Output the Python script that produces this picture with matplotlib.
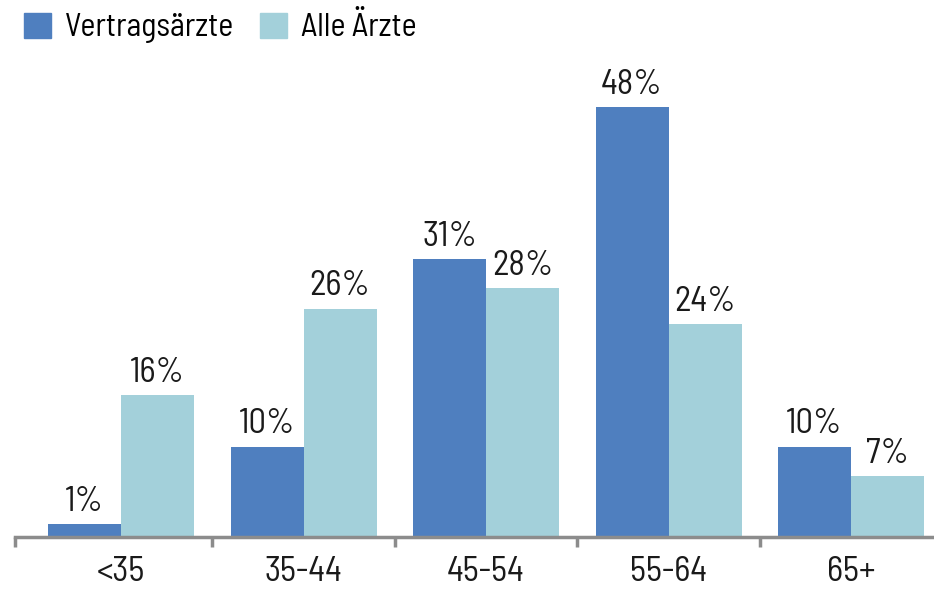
import matplotlib
matplotlib.use("Agg")
import matplotlib.pyplot as plt
import matplotlib.patches as mpatches
from matplotlib import font_manager as fm
import numpy as np

categories = ["<35", "35-44", "45-54", "55-64", "65+"]
series_names = ["Vertragsärzte", "Alle Ärzte"]
vertragsaerzte = [1.4, 10.1, 31.0, 48.0, 10.1]
alle_aerzte = [15.8, 25.5, 27.8, 23.8, 6.8]

c_dark = "#4f7fbf"
c_light = "#a3d0da"
axis_col = "#8c8c8c"
txt_col = "#1a1a1a"

fam = ["Barlow Semi Condensed", "DejaVu Sans"]
fp = fm.FontProperties(family=fam, weight=400, size=25)
fp_leg = fm.FontProperties(family=fam, weight=400, size=23)

W, H = 934, 589
fig = plt.figure(figsize=(W / 100, H / 100), dpi=100)

base_y = 537
px_per_pct = 8.96
x0 = 121.0
step = 182.5

ax = fig.add_axes([0, (H - base_y) / H, 1, base_y / H])
ax.set_ylim(0, base_y / px_per_pct)
ax.set_xlim(-x0 / step, (W - x0) / step)

x = np.arange(len(categories))
bw = 0.4
b1 = ax.bar(x - bw / 2, vertragsaerzte, bw, color=c_dark, label=series_names[0], zorder=2)
b2 = ax.bar(x + bw / 2, alle_aerzte, bw, color=c_light, label=series_names[1], zorder=2)

for bars, vals in ((b1, vertragsaerzte), (b2, alle_aerzte)):
    for rect, v in zip(bars, vals):
        ax.annotate(f"{round(v):d}%", (rect.get_x() + rect.get_width() / 2, v),
                    xytext=(0, 4.5), textcoords="offset points",
                    ha="center", va="bottom", fontproperties=fp, color=txt_col)

for s in ["top", "left", "right"]:
    ax.spines[s].set_visible(False)
ax.spines["bottom"].set_color(axis_col)
ax.spines["bottom"].set_linewidth(2.5)
start = (15 - x0) / step
ax.spines["bottom"].set_bounds(start, ax.get_xlim()[1])
ax.set_yticks([])

ax.set_xticks(x)
ax.set_xticklabels(categories, color=txt_col)
for t in ax.get_xticklabels():
    t.set_fontproperties(fp)
ax.tick_params(axis="x", which="major", length=0, pad=14)
ax.set_xticks([start] + list(x[1:] - 0.5), minor=True)
ax.tick_params(axis="x", which="minor", length=7, width=2.5, color=axis_col)

handles = [mpatches.Patch(color=c_dark), mpatches.Patch(color=c_light)]
fig.legend(handles, series_names, loc="upper left", bbox_to_anchor=(14 / W, 1 - 3 / H),
           ncol=2, frameon=False, prop=fp_leg, handlelength=0.85, handleheight=0.85,
           handletextpad=0.45, columnspacing=0.8, borderaxespad=0, borderpad=0.3)

fig.savefig("out.png", dpi=100)
